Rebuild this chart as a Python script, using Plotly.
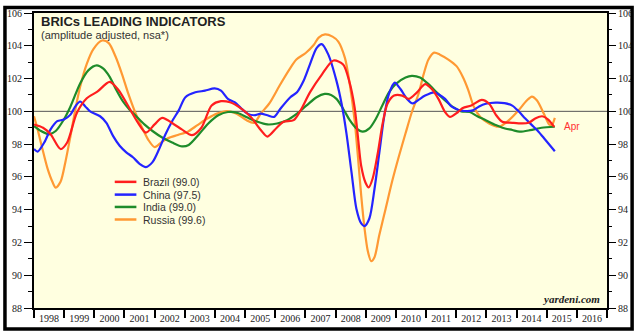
import plotly.graph_objects as go

# ---------------- data ----------------
brazil_t = [1998.00, 1998.30, 1998.55, 1998.88, 1999.10, 1999.42, 1999.75, 2000.10, 2000.51, 2000.80,
            2001.10, 2001.45, 2001.71, 2002.00, 2002.25, 2002.65, 2002.90, 2003.24, 2003.55, 2003.89,
            2004.20, 2004.50, 2004.85, 2005.19, 2005.52, 2005.74, 2006.05, 2006.28, 2006.61, 2006.84,
            2007.15, 2007.55, 2007.93, 2008.25, 2008.45, 2008.63, 2008.74, 2008.85, 2008.99, 2009.10,
            2009.23, 2009.40, 2009.56, 2009.72, 2009.94, 2010.21, 2010.43, 2010.70, 2010.97, 2011.19,
            2011.41, 2011.63, 2011.79, 2012.06, 2012.22, 2012.50, 2012.85, 2013.10, 2013.31, 2013.53,
            2013.86, 2014.18, 2014.40, 2014.62, 2014.85, 2015.05, 2015.25]
brazil_v = [99.2, 99.0, 98.6, 97.7, 98.1, 99.9, 100.8, 101.2, 101.8, 101.3,
            100.4, 99.3, 98.7, 99.2, 99.6, 99.2, 98.9, 98.55, 99.0, 100.36,
            100.62, 100.55, 100.2, 99.66, 98.86, 98.46, 99.0, 99.36, 99.46, 100.06,
            101.16, 102.26, 103.1, 102.86, 101.86, 100.26, 98.46, 96.66, 95.66, 95.36,
            95.9, 97.46, 99.26, 100.46, 100.96, 100.96, 100.76, 101.16, 101.66, 101.36,
            100.76, 99.96, 99.66, 99.96, 100.2, 100.36, 100.7, 100.45, 99.8, 99.36,
            99.3, 99.26, 99.3, 99.56, 99.7, 99.5, 99.05]

china_t = [1998.00, 1998.12, 1998.34, 1998.55, 1998.77, 1998.99, 1999.21, 1999.37, 1999.53, 1999.70,
           1999.86, 2000.19, 2000.40, 2000.62, 2000.84, 2001.06, 2001.28, 2001.50, 2001.71, 2001.93,
           2002.15, 2002.36, 2002.58, 2002.80, 2003.02, 2003.35, 2003.67, 2003.99, 2004.20, 2004.43,
           2004.65, 2004.86, 2005.08, 2005.30, 2005.52, 2005.74, 2005.96, 2006.17, 2006.50, 2006.72,
           2006.94, 2007.15, 2007.37, 2007.54, 2007.76, 2008.03, 2008.20, 2008.36, 2008.53, 2008.69,
           2008.85, 2008.96, 2009.12, 2009.29, 2009.45, 2009.61, 2009.77, 2009.96, 2010.15, 2010.37,
           2010.56, 2010.75, 2010.97, 2011.27, 2011.45, 2011.63, 2011.84, 2012.06, 2012.28, 2012.55,
           2012.76, 2012.98, 2013.31, 2013.60, 2013.86, 2014.07, 2014.29, 2014.51, 2014.73, 2014.94,
           2015.27]
china_v = [97.7, 97.54, 98.1, 98.9, 99.4, 99.5, 99.8, 100.3, 100.6, 100.3,
           100.0, 99.7, 99.3, 98.5, 97.9, 97.5, 97.2, 96.8, 96.6, 96.9,
           97.7, 98.6, 99.4, 100.06, 100.86, 101.16, 101.26, 101.4, 101.26, 100.76,
           100.56, 100.2, 99.86, 99.76, 99.86, 99.76, 99.66, 100.16, 100.86, 101.16,
           101.86, 102.86, 103.86, 104.1, 103.46, 101.86, 100.46, 98.66, 96.26, 94.06,
           93.16, 93.0, 93.46, 95.26, 97.46, 99.66, 101.06, 101.75, 101.36, 100.76,
           100.48, 100.7, 100.96, 101.16, 101.0, 100.76, 100.3, 100.1, 100.02, 100.06,
           100.3, 100.46, 100.53, 100.5, 100.35, 100.0, 99.56, 99.16, 98.76, 98.3,
           97.56]

india_t = [1998.00, 1998.23, 1998.50, 1998.72, 1998.99, 1999.21, 1999.53, 1999.80, 2000.08, 2000.30,
           2000.51, 2000.73, 2000.95, 2001.17, 2001.39, 2001.66, 2001.93, 2002.25, 2002.58, 2002.91,
           2003.13, 2003.45, 2003.78, 2004.11, 2004.43, 2004.76, 2005.08, 2005.41, 2005.74, 2006.06,
           2006.39, 2006.72, 2007.04, 2007.37, 2007.64, 2007.85, 2008.03, 2008.25, 2008.47, 2008.69,
           2008.90, 2009.12, 2009.34, 2009.55, 2009.77, 2009.99, 2010.32, 2010.53, 2010.80, 2011.08,
           2011.35, 2011.63, 2011.90, 2012.17, 2012.45, 2012.70, 2012.98, 2013.31, 2013.53, 2013.86,
           2014.10, 2014.45, 2014.83, 2015.27]
india_v = [99.1, 98.8, 98.6, 98.8, 99.5, 100.3, 101.7, 102.5, 102.8, 102.6,
           102.1, 101.3, 100.6, 100.1, 99.7, 99.2, 98.8, 98.4, 98.1, 97.86,
           97.95, 98.56, 99.26, 99.76, 99.96, 99.9, 99.62, 99.36, 99.2, 99.26,
           99.46, 99.86, 100.36, 100.86, 101.06, 101.0, 100.76, 100.16, 99.46, 98.96,
           98.76, 98.96, 99.56, 100.36, 101.16, 101.66, 102.06, 102.16, 102.06, 101.66,
           101.16, 100.66, 100.26, 100.0, 99.96, 99.7, 99.46, 99.16, 99.0, 98.86,
           98.76, 98.85, 99.0, 99.06]

russia_t = [1998.00, 1998.12, 1998.28, 1998.45, 1998.61, 1998.72, 1998.88, 1999.04, 1999.21, 1999.37,
            1999.53, 1999.75, 1999.97, 2000.26, 2000.48, 2000.70, 2000.92, 2001.13, 2001.35, 2001.57,
            2001.79, 2002.00, 2002.22, 2002.44, 2002.77, 2003.10, 2003.42, 2003.75, 2004.07, 2004.40,
            2004.72, 2005.05, 2005.30, 2005.52, 2005.81, 2006.14, 2006.47, 2006.70, 2007.01, 2007.28,
            2007.44, 2007.65, 2007.90, 2008.09, 2008.31, 2008.47, 2008.63, 2008.74, 2008.85, 2008.96,
            2009.07, 2009.18, 2009.29, 2009.45, 2009.66, 2009.88, 2010.10, 2010.32, 2010.53, 2010.75,
            2010.92, 2011.08, 2011.27, 2011.46, 2011.74, 2012.01, 2012.22, 2012.40, 2012.58, 2012.80,
            2013.09, 2013.42, 2013.75, 2014.07, 2014.34, 2014.51, 2014.68, 2014.92, 2015.08, 2015.17,
            2015.27]
russia_v = [99.7, 98.9, 97.7, 96.5, 95.7, 95.34, 95.7, 96.9, 98.5, 100.1,
            101.5, 102.9, 103.8, 104.32, 104.16, 103.36, 102.26, 101.06, 99.96, 99.06,
            98.26, 97.82, 98.1, 98.36, 98.56, 98.76, 99.16, 99.56, 99.86, 100.02,
            99.86, 99.45, 99.3, 99.86, 100.5, 101.56, 102.56, 103.16, 103.56, 104.06,
            104.5, 104.7, 104.56, 104.26, 103.26, 101.66, 99.46, 97.26, 94.86, 92.86,
            91.46, 90.86, 91.1, 92.46, 94.06, 95.76, 97.26, 98.66, 99.96, 101.06,
            102.26, 103.16, 103.58, 103.46, 103.16, 102.76, 102.1, 101.3, 100.3, 99.66,
            99.26, 99.06, 99.46, 100.06, 100.66, 100.9, 100.66, 99.8, 99.2, 99.16,
            99.6]

series_names = ["Brazil (99.0)", "China (97.5)", "India (99.0)", "Russia (99.6)"]
series_colors = ["#FF1E1E", "#2424FF", "#1E8C2A", "#FF9933"]
series_t = [brazil_t, china_t, india_t, russia_t]
series_v = [brazil_v, china_v, india_v, russia_v]

year_labels = [str(y) for y in range(1998, 2017)]
y_ticks = list(range(88, 107, 2))

# ---------------- figure ----------------
W, H = 640, 331
ML, MR, MT, MB = 31, 27, 7, 23
PW, PH = W - ML - MR, H - MT - MB


def px_x(px):
    return (px - ML) / PW


def px_y(py):
    return (H - MB - py) / PH


fig = go.Figure()

# reference line at 100
fig.add_shape(type="line", xref="paper", yref="y", x0=0, x1=1, y0=100, y1=100,
              line=dict(color="#555555", width=1), layer="below")

order = [3, 2, 1, 0]
for i in order:
    fig.add_trace(go.Scatter(x=series_t[i], y=series_v[i], mode="lines",
                             line=dict(color=series_colors[i], width=2.2, shape="spline", smoothing=0.8),
                             name=series_names[i], showlegend=False, hoverinfo="skip"))

# invisible trace so the right-hand axis is drawn
fig.add_trace(go.Scatter(x=[1998], y=[100], yaxis="y2", mode="lines", showlegend=False,
                         line=dict(width=0), hoverinfo="skip"))

tickfont = dict(family="Liberation Serif", size=10, color="#222222")

fig.update_layout(
    width=W, height=H,
    margin=dict(l=ML, r=MR, t=MT, b=MB, pad=0),
    paper_bgcolor="white",
    plot_bgcolor="#FFFFE0",
    xaxis=dict(range=[1998, 2017], tickmode="array",
               tickvals=[y + 0.5 for y in range(1998, 2017)], ticktext=year_labels,
               ticks="", showgrid=False, zeroline=False,
               showline=True, linecolor="black", linewidth=2, mirror=True,
               tickfont=tickfont,
               minor=dict(tickmode="array", tickvals=list(range(1998, 2018)),
                          ticks="outside", ticklen=8, tickwidth=1.5, tickcolor="black", showgrid=False)),
    yaxis=dict(range=[88, 106], tickmode="array", tickvals=y_ticks,
               ticktext=[str(v) for v in y_ticks],
               ticks="outside", ticklen=8, tickwidth=1, tickcolor="black",
               showgrid=False, zeroline=False,
               showline=True, linecolor="black", linewidth=2, mirror=True,
               tickfont=tickfont,
               minor=dict(tickmode="array", tickvals=list(range(89, 106, 2)),
                          ticks="outside", ticklen=4, tickwidth=1, tickcolor="black", showgrid=False)),
    yaxis2=dict(range=[88, 106], overlaying="y", side="right", tickmode="array", tickvals=y_ticks,
                ticktext=[str(v) for v in y_ticks],
                ticks="outside", ticklen=8, tickwidth=1, tickcolor="black",
                showgrid=False, zeroline=False, showline=False,
                tickfont=tickfont,
                minor=dict(tickmode="array", tickvals=list(range(89, 106, 2)),
                           ticks="outside", ticklen=4, tickwidth=1, tickcolor="black", showgrid=False)),
    showlegend=False,
)

annotations = [
    dict(text="<b>BRICs LEADING INDICATORS</b>", xref="paper", yref="paper",
         x=px_x(36), y=px_y(15.5), xanchor="left", yanchor="middle", showarrow=False,
         font=dict(family="Liberation Sans", size=13, color="#222222")),
    dict(text="(amplitude adjusted, nsa*)", xref="paper", yref="paper",
         x=px_x(36), y=px_y(29), xanchor="left", yanchor="middle", showarrow=False,
         font=dict(family="Liberation Sans", size=11, color="#333333")),
    dict(text="Apr", xref="x", yref="y", x=2015.5, y=99.1, xanchor="left", yanchor="middle",
         showarrow=False, font=dict(family="Liberation Sans", size=10, color="#FF3030")),
    dict(text="<i><b>yardeni.com</b></i>", xref="paper", yref="paper",
         x=px_x(608), y=px_y(307), xanchor="right", yanchor="bottom", showarrow=False,
         font=dict(family="Liberation Serif", size=11, color="#222222")),
]

legend_rows = [179.3, 192.3, 204.9, 217.7]
for i, name in enumerate(series_names):
    fig.add_shape(type="line", xref="paper", yref="paper",
                  x0=px_x(113), x1=px_x(135), y0=px_y(legend_rows[i]), y1=px_y(legend_rows[i]),
                  line=dict(color=series_colors[i], width=2.5))
    annotations.append(dict(text=name, xref="paper", yref="paper", x=px_x(140), y=px_y(legend_rows[i]),
                            xanchor="left", yanchor="middle", showarrow=False,
                            font=dict(family="Liberation Sans", size=10.5, color="#333333")))

fig.update_layout(annotations=annotations)

# outer black frame around the whole image
fig.add_shape(type="rect", xref="paper", yref="paper",
              x0=px_x(1.5), x1=px_x(638.5), y0=px_y(329.5), y1=px_y(1.5),
              line=dict(color="black", width=3.5), fillcolor="rgba(0,0,0,0)")

fig.write_html("out.html")
